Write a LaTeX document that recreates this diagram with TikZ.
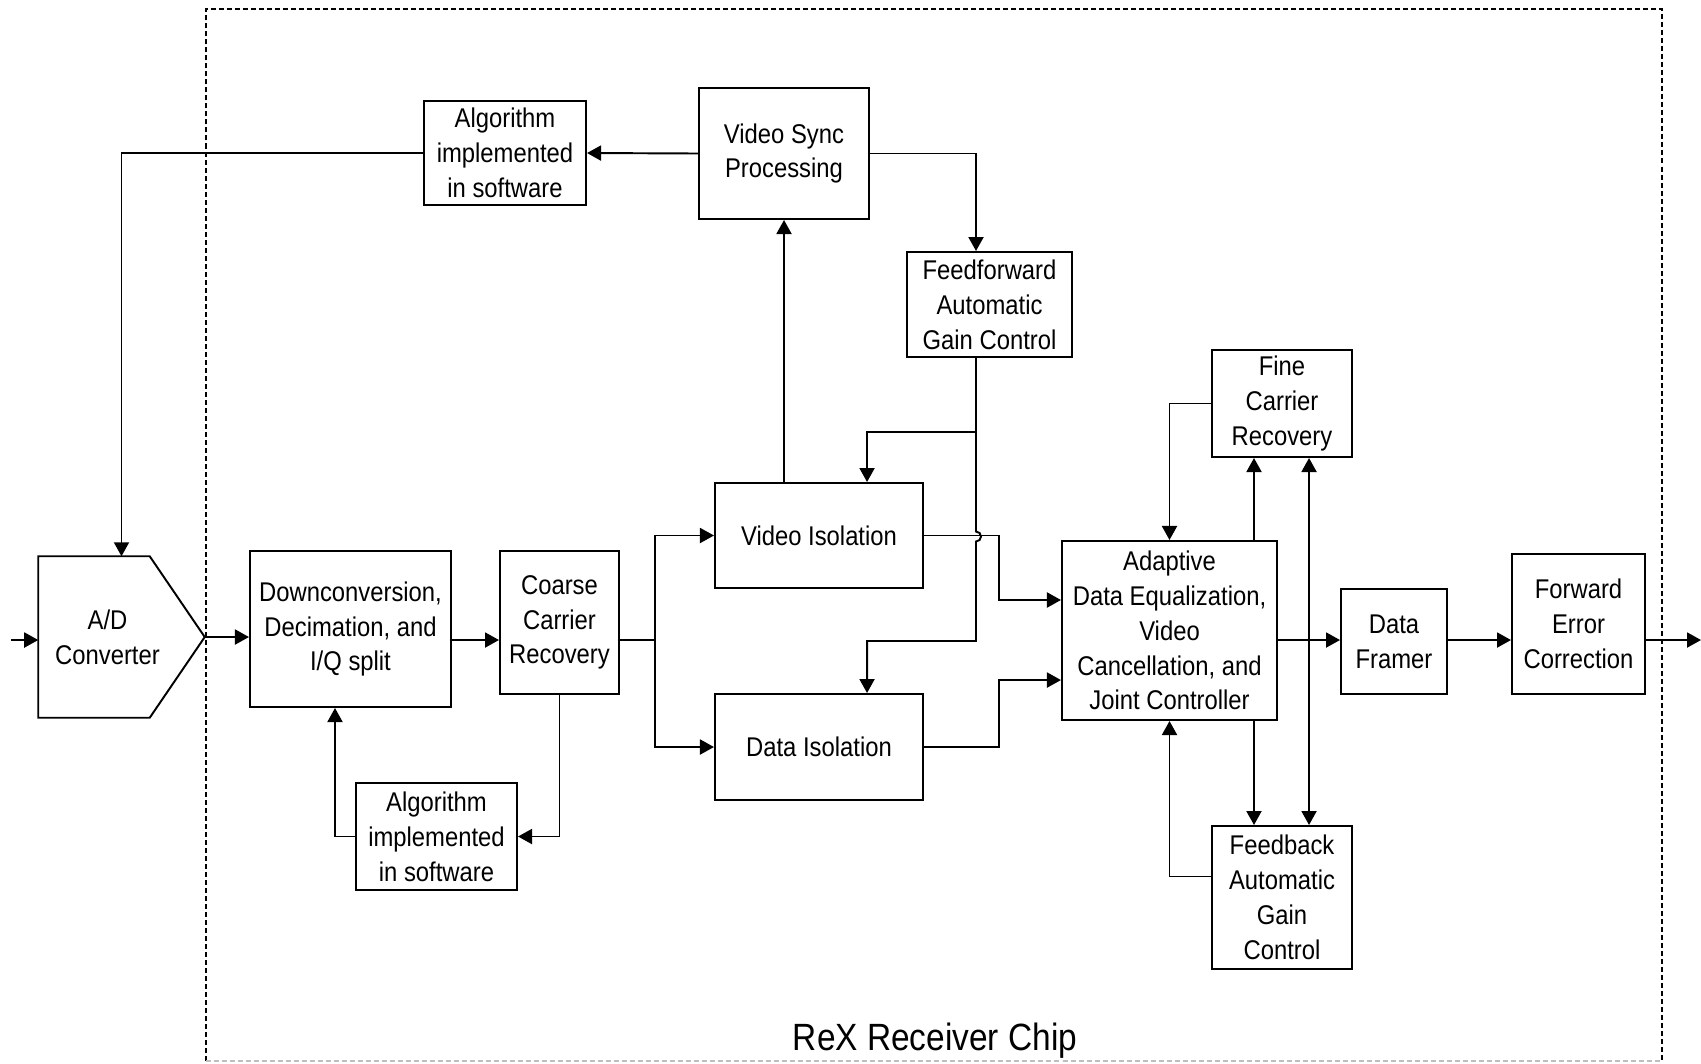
\documentclass[tikz,border=0pt]{standalone}
\usepackage{fontspec}
\setmainfont{Liberation Sans}[FakeStretch=0.88]
\usepackage{tikz}
\usetikzlibrary{arrows.meta,positioning}

\tikzset{
    blockbox/.style={
        draw,
        rectangle,
        line width=0.55pt,
        align=center,
        inner sep=1pt,
        font=\fontsize{7.7}{9.9}\selectfont
    },
    adtext/.style={
        rectangle,
        align=center,
        inner sep=0pt,
        font=\fontsize{7.7}{9.9}\selectfont
    },
    sig/.style={
        -{Triangle[length=1.4mm,width=1.5mm]},
        line width=0.55pt
    },
    sigboth/.style={
        {Triangle[length=1.4mm,width=1.5mm]}-{Triangle[length=1.4mm,width=1.5mm]},
        line width=0.55pt
    },
    chipframe/.style={
        line width=0.4pt,
        dash pattern=on 0.5mm off 0.3mm
    }
}

\begin{document}
\begin{tikzpicture}[x=0.01cm, y=-0.01cm]
    \useasboundingbox (0,0) rectangle (1701,1063);

    % chip boundary
    \draw[chipframe] (206,1061) -- (206,9) -- (1662,9) -- (1662,1061);
    \draw[chipframe, black!25] (206,1061) -- (1662,1061);
    \node[font=\fontsize{10.8}{13}\selectfont, anchor=base] (chip) at (935,1050) {ReX Receiver Chip};

    % main signal line height
    \coordinate (main) at (0,640);
    \coordinate (inp) at (11,640);
    \coordinate (outp) at (1701,640);

    % converter
    \node[adtext, minimum width=1.65cm, minimum height=1.60cm] (ad) at (121.5,637) {};
    \node[adtext] (adlabel) at ([xshift=-0.14cm]ad.center) {A/D\\Converter};
    \draw[line width=0.55pt] (ad.north west) -- ([xshift=-0.55cm]ad.north east) -- (ad.east)
        -- ([xshift=-0.55cm]ad.south east) -- (ad.south west) -- cycle;

    % blocks
    \node[blockbox, minimum width=2.01cm, minimum height=1.56cm] (down) at (350.5,629) {Downconversion,\\Decimation, and\\I/Q split};
    \node[blockbox, minimum width=1.19cm, minimum height=1.43cm] (coarse) at (559.5,622.5) {Coarse\\Carrier\\Recovery};
    \node[blockbox, minimum width=1.61cm, minimum height=1.07cm] (swlow) at (436.5,836.5) {Algorithm\\implemented\\in software};
    \node[blockbox, minimum width=2.08cm, minimum height=1.05cm] (vidiso) at (819,535.5) {Video Isolation};
    \node[blockbox, minimum width=2.08cm, minimum height=1.06cm] (datiso) at (819,747) {Data Isolation};
    \node[blockbox, minimum width=1.70cm, minimum height=1.31cm] (vsync) at (784,153.5) {Video Sync\\Processing};
    \node[blockbox, minimum width=1.62cm, minimum height=1.04cm] (swtop) at (505,153) {Algorithm\\implemented\\in software};
    \node[blockbox, minimum width=1.65cm, minimum height=1.05cm] (ffagc) at (989.5,304.5) {Feedforward\\Automatic\\Gain Control};
    \node[blockbox, minimum width=2.15cm, minimum height=1.79cm] (adapt) at (1169.5,630.5) {Adaptive\\Data Equalization,\\Video\\Cancellation, and\\Joint Controller};
    \node[blockbox, minimum width=1.40cm, minimum height=1.07cm] (fine) at (1282,403.5) {Fine\\Carrier\\Recovery};
    \node[blockbox, minimum width=1.40cm, minimum height=1.43cm] (fbagc) at (1282,897.5) {Feedback\\Automatic\\Gain\\Control};
    \node[blockbox, minimum width=1.06cm, minimum height=1.05cm] (framer) at (1394,641.5) {Data\\Framer};
    \node[blockbox, minimum width=1.33cm, minimum height=1.40cm] (fec) at (1578.5,624) {Forward\\Error\\Correction};

    % helper points
    \coordinate (cbr) at (655,640);
    \coordinate (ffb) at ([xshift=-0.135cm]ffagc.south);
    \coordinate (fineL) at ([xshift=-0.28cm]fine.south);
    \coordinate (fineR) at ([xshift=0.27cm]fine.south);

    % main path
    \draw[sig] (inp) -- (inp -| ad.west);
    \draw[sig] (ad.east) -- (ad.east -| down.west);
    \draw[sig] (down.east |- main) -- (coarse.west |- main);
    \draw[sig] (coarse.east |- main) -- (cbr) |- (vidiso.west);
    \draw[sig] (cbr) |- (datiso.west);
    \draw[sig] (adapt.east |- main) -- (framer.west |- main);
    \draw[sig] (framer.east |- main) -- (fec.west |- main);
    \draw[sig] (fec.east |- main) -- (outp);

    % software loops
    \draw[sig] (coarse.south) |- (swlow.east);
    \draw[sig] (swlow.west) -| ([xshift=-0.155cm]down.south);
    \draw[sig] (vidiso.north -| vsync.south) -- (vsync.south);
    \draw[sig] (vsync.west) -- (swtop.east);
    \draw[sig] (swtop.west) -| (ad.north);

    % gain control
    \draw[sig] (vsync.east) -| (ffb |- ffagc.north);
    \draw[sig] (ffb) -- ++(0,74) -| ([xshift=0.48cm]vidiso.north);
    \draw[sig] (ffb) -- ++(0,173.5) arc[start angle=90, end angle=-90, radius=0.05cm]
        -- ++(0,99.5) -| ([xshift=0.48cm]datiso.north);

    % into equalizer
    \draw[sig] (vidiso.east) -- ++(75,0) |- ([yshift=0.305cm]adapt.west);
    \draw[sig] (datiso.east) -- ++(75,0) |- ([yshift=-0.495cm]adapt.west);

    % fine carrier and feedback agc
    \draw[sig] (fine.west) -| (adapt.north);
    \draw[sig] (fineL |- adapt.north) -- (fineL);
    \draw[sig] (fineL |- adapt.south) -- (fineL |- fbagc.north);
    \draw[sigboth] (fineR) -- (fineR |- fbagc.north);
    \draw[sig] ([yshift=0.21cm]fbagc.west) -| (adapt.south);
\end{tikzpicture}
\end{document}
